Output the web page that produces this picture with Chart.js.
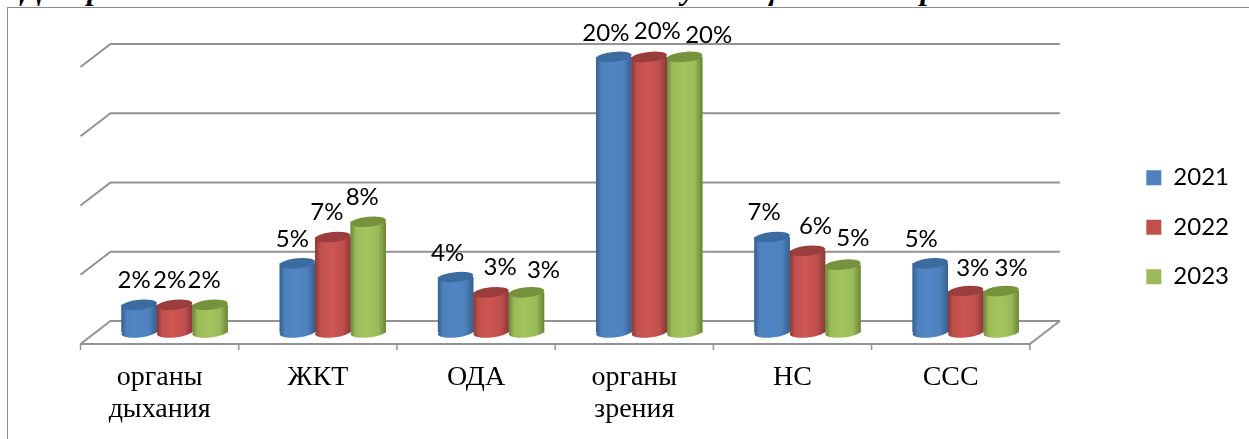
<!DOCTYPE html>
<html>
<head>
<meta charset="utf-8">
<script src="https://cdn.jsdelivr.net/npm/chart.js@4"></script>
<style>
html, body { margin: 0; padding: 0; background: #fff; overflow: hidden; }
#page { position: relative; width: 1249px; height: 439px; overflow: hidden; }
#heading { position: absolute; left: 22px; top: -29px; white-space: nowrap; font: italic bold 31px "Liberation Serif", serif; word-spacing: 8px; color: #000; }
#frame { position: absolute; left: 7px; top: 7px; width: 1300px; height: 500px; border: 1px solid #8c8c8c; }
#chart { position: absolute; left: 0; top: 0; }
</style>
</head>
<body>
<div id="page">
<div id="heading">Диаграмма 4. Показатели заболеваемости обучающихся за три года.</div>
<div id="frame"></div>
<canvas id="chart" width="1249" height="439"></canvas>
</div>
<script>
const categories = [['органы', 'дыхания'], 'ЖКТ', 'ОДА', ['органы', 'зрения'], 'НС', 'ССС'];
const values2021 = [2, 5, 4, 19.9, 6.9, 5];
const values2022 = [2, 6.9, 2.9, 19.9, 5.9, 3];
const values2023 = [2, 8, 2.9, 19.9, 4.9, 3];
const yTicks = [0, 5, 10, 15, 20];

// top, body, light, dark
const blues = ['#3b6b9f', '#4f81bd', '#4f86c6', '#34608f'];
const reds = ['#9a3d3c', '#c0504d', '#cf5552', '#8a3836'];
const greens = ['#76923c', '#9bbb59', '#a2c45c', '#6b8537'];

function shade(ctx, el, c) {
    const x0 = el.x - el.width / 2;
    const g = ctx.createLinearGradient(x0, 0, x0 + el.width, 0);
    g.addColorStop(0, c[3]);
    g.addColorStop(0.15, c[1]);
    g.addColorStop(0.45, c[2]);
    g.addColorStop(0.78, c[1]);
    g.addColorStop(1, c[3]);
    return g;
}

// depth of the fake 3d floor
const depthX = 15, depthY = 11.5;

const wallPlugin = {
    id: 'wall',
    // two line labels hang below the layout box, the scale would clip them
    afterLayout(chart) {
        chart.scales.x.bottom = chart.height;
    },
    beforeDatasetsDraw(chart) {
        const ctx = chart.ctx, y = chart.scales.y, x = chart.scales.x;
        ctx.save();
        ctx.strokeStyle = '#929292';
        ctx.lineWidth = 2;
        yTicks.forEach(t => {
            const py = y.getPixelForValue(t);
            ctx.beginPath();
            ctx.moveTo(x.left - depthX, py + depthY);
            ctx.lineTo(x.left + depthX, py - depthY);
            ctx.lineTo(x.right + depthX, py - depthY);
            ctx.stroke();
        });
        const base = y.getPixelForValue(0);
        ctx.beginPath();
        ctx.moveTo(x.left - depthX, base + depthY);
        ctx.lineTo(x.right - depthX, base + depthY);
        ctx.lineTo(x.right + depthX, base - depthY);
        ctx.stroke();
        ctx.lineWidth = 1.5;
        for (let i = 0; i <= categories.length; i++) {
            const px = x.left - depthX + i * (x.right - x.left) / categories.length;
            ctx.beginPath();
            ctx.moveTo(px, base + depthY);
            ctx.lineTo(px, base + depthY + 6);
            ctx.stroke();
        }
        ctx.restore();
    }
};

// value labels were hand placed in the original, dx/dy from the bar top
const labelNudge = [
    [[-5, -25], [-5, -24], [-8, -24], [-8, -24], [-8, -25], [-9, -24]],
    [[-5, -25], [-6, -25], [9, -25], [8, -26], [8, -25], [7, -23]],
    [[-6, -25], [-6, -24], [17, -22], [24, -22], [10, -26], [10, -23]]
];

const cylinderPlugin = {
    id: 'cylinder',
    afterDatasetsDraw(chart) {
        const ctx = chart.ctx;
        chart.data.datasets.forEach((ds, d) => {
            const c = [blues, reds, greens][d];
            chart.getDatasetMeta(d).data.forEach((el, i) => {
                const rx = el.width / 2, ry = 5;
                ctx.save();
                ctx.fillStyle = shade(ctx, el, c);
                ctx.fillRect(el.x - rx, el.y, el.width, el.base - el.y);
                ctx.beginPath();
                ctx.ellipse(el.x, el.base, rx, ry, -0.1, 0, Math.PI * 2);
                ctx.fill();
                ctx.fillStyle = c[0];
                ctx.beginPath();
                ctx.ellipse(el.x, el.y, rx, ry, -0.1, 0, Math.PI * 2);
                ctx.fill();
                ctx.fillStyle = '#000';
                ctx.font = '24px Lato, "Open Sans", sans-serif';
                ctx.textAlign = 'center';
                ctx.textBaseline = 'middle';
                const n = labelNudge[d][i];
                ctx.fillText(Math.round(ds.data[i]) + '%', el.x + n[0], el.y + n[1]);
                ctx.restore();
            });
        });
    }
};

function makeSet(label, data, c) {
    return {
        label: label,
        data: data,
        backgroundColor: c[1],
        hoverBackgroundColor: c[1],
        borderWidth: 0
    };
}

const chart = new Chart(document.getElementById('chart'), {
    type: 'bar',
    data: {
        labels: categories,
        datasets: [
            makeSet('2021', values2021, blues),
            makeSet('2022', values2022, reds),
            makeSet('2023', values2023, greens)
        ]
    },
    options: {
        responsive: false,
        animation: false,
        categoryPercentage: 0.672,
        barPercentage: 1,
        layout: { padding: { left: 95.5, right: 10, top: 55.5, bottom: 40 } },
        scales: {
            x: {
                grid: { display: false },
                border: { display: false },
                afterFit(scale) { scale.height = 66.5; },
                ticks: {
                    labelOffset: -15,
                    padding: 21,
                    color: '#000',
                    maxRotation: 0,
                    autoSkip: false,
                    font: { family: '"Liberation Serif"', size: 28, lineHeight: 1.14 }
                }
            },
            y: {
                position: 'right',
                min: 0,
                max: 20,
                grid: { display: false },
                border: { display: false },
                afterFit(scale) { scale.width = 76; },
                ticks: { display: false, stepSize: 5 }
            }
        },
        plugins: {
            tooltip: { enabled: false },
            legend: {
                position: 'right',
                labels: {
                    boxWidth: 15,
                    boxHeight: 15,
                    padding: 25.5,
                    color: '#000',
                    font: { family: 'Lato, "Open Sans", sans-serif', size: 24 }
                }
            }
        }
    },
    plugins: [wallPlugin, cylinderPlugin]
});
</script>
</body>
</html>
